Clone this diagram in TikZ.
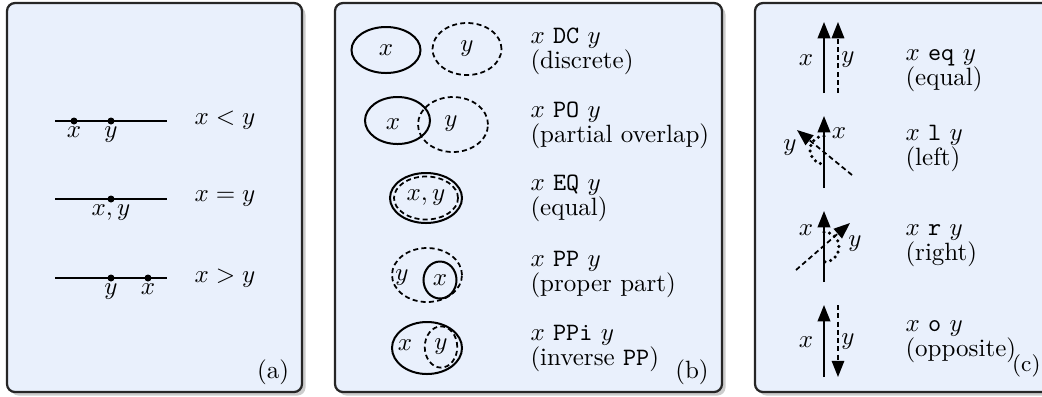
\documentclass[tikz,border=0pt]{standalone}
\usetikzlibrary{shapes.geometric, arrows.meta, shadows}
\definecolor{panelblue}{RGB}{233,240,252}
\begin{document}
\begin{tikzpicture}[x=0.4pt, y=-0.4pt,
  panel/.style={draw=black!85, line width=0.9pt, fill=panelblue, rounded corners=3.2pt,
    drop shadow={shadow xshift=1.4pt, shadow yshift=-1.4pt, opacity=0.4}},
  ln/.style={line width=0.8pt},
  dsh/.style={line width=0.7pt, dash pattern=on 2pt off 1.3pt},
  dotp/.style={line width=1.4pt, line cap=round, dash pattern=on 0pt off 2.3pt},
  oval/.style={ellipse, draw, line width=0.8pt, inner sep=0pt},
  doval/.style={ellipse, draw, dsh, inner sep=0pt},
  dot/.style={circle, fill, inner sep=0pt, minimum size=2.8pt},
  lab/.style={anchor=north, inner sep=1.2pt},
  txt/.style={anchor=mid west, inner sep=0pt, font=\fontsize{10}{12}\selectfont},
  arr/.style={line width=0.8pt, -{Triangle[length=6.5pt,width=5pt]}},
  darr/.style={dsh, -{Triangle[length=6.5pt,width=5pt]}}
]
\useasboundingbox (0,0) rectangle (1042,396);
% panels
\path[panel] (7,3) rectangle (302,392);
\path[panel] (335,3) rectangle (722,392);
\path[panel] (755,3) rectangle (1052,392);

% ---------- panel (a)
\coordinate (l1a) at (55,121); \coordinate (l1b) at (167,121);
\coordinate (l2a) at (55,199); \coordinate (l2b) at (167,199);
\coordinate (l3a) at (55,278); \coordinate (l3b) at (167,278);
\draw[ln] (l1a) -- (l1b);
\draw[ln] (l2a) -- (l2b);
\draw[ln] (l3a) -- (l3b);
\node[dot] (p1x) at (74,121) {};
\node[dot] (p1y) at (111,121) {};
\node[dot] (p2) at (111,199) {};
\node[dot] (p3y) at (111,278) {};
\node[dot] (p3x) at (148,278) {};
\node[lab] (t1x) at (74,123) {$x$};
\node[lab] (t1y) at (111,123) {$y$};
\node[lab] (t2) at (111,201) {$x,y$};
\node[lab] (t3y) at (111,280) {$y$};
\node[lab] (t3x) at (148,280) {$x$};
\node (r1) at (225,120) {$x<y$};
\node (r2) at (225,199) {$x=y$};
\node (r3) at (225,278) {$x>y$};
\node (cap-a) at (273,372) {(a)};

% ---------- panel (b)
\node[oval, minimum width=27.6pt, minimum height=18.4pt] (dcx) at (386,50) {$x$};
\node[doval, minimum width=27.6pt, minimum height=20.8pt] (dcy) at (467,49) {$y$};
\node[oval, minimum width=26pt, minimum height=18.8pt] (pox) at (397.5,120.5) {};
\node[doval, minimum width=28pt, minimum height=22pt] (poy) at (453,124.5) {};
\node (poxl) at (393,124) {$x$};
\node (poyl) at (451,124) {$y$};
\node[oval, minimum width=28.8pt, minimum height=20pt] (eqo) at (426,198) {};
\node[doval, minimum width=25.6pt, minimum height=17.2pt] (eqi) at (426,198) {$x,y$};
\node[doval, minimum width=28pt, minimum height=21.6pt] (ppo) at (427,275) {};
\node[oval, minimum width=13.2pt, minimum height=14.8pt] (ppi) at (440,280) {$x$};
\node (ppyl) at (402,278) {$y$};
\node[oval, minimum width=28pt, minimum height=20.8pt] (pio) at (427,348) {};
\node[doval, minimum width=13pt, minimum height=16.5pt] (pii) at (441,347) {$y$};
\node (pixl) at (405,345) {$x$};

\node[txt] (dc1) at (530,38.5) {$x$ \texttt{DC} $y$};
\node[txt] (dc2) at (530,63.5) {(discrete)};
\node[txt] (po1) at (530,112) {$x$ \texttt{PO} $y$};
\node[txt] (po2) at (530,137) {(partial overlap)};
\node[txt] (eq1) at (530,185.5) {$x$ \texttt{EQ} $y$};
\node[txt] (eq2) at (530,210.5) {(equal)};
\node[txt] (pp1) at (530,261.5) {$x$ \texttt{PP} $y$};
\node[txt] (pp2) at (530,286.5) {(proper part)};
\node[txt] (pi1) at (530,335) {$x$ \texttt{PPi} $y$};
\node[txt] (pi2) at (530,360) {(inverse \texttt{PP})};
\node (cap-b) at (692,372) {(b)};

% ---------- panel (c)
% row 1: equal
\coordinate (a1s) at (824,93); \coordinate (a1t) at (824,22);
\coordinate (b1s) at (838,93); \coordinate (b1t) at (838,22);
\draw[arr] (a1s) -- (a1t);
\draw[darr] (b1s) -- (b1t);
\node (c1x) at (806,60) {$x$};
\node (c1y) at (848,60) {$y$};
% row 2: left
\coordinate (a2s) at (824,188); \coordinate (a2t) at (824,116);
\coordinate (b2s) at (852,175); \coordinate (b2t) at (797,130);
\coordinate (o2) at (824,136);
\draw[arr] (a2s) -- (a2t);
\draw[darr] (b2s) -- (b2t);
\draw[dotp] (o2) arc[start angle=90, end angle=270, radius=5.6pt];
\node (c2x) at (839,133) {$x$};
\node (c2y) at (790,148) {$y$};
% row 3: right
\coordinate (a3s) at (824,282); \coordinate (a3t) at (824,211);
\coordinate (b3s) at (796,270); \coordinate (b3t) at (850,223);
\coordinate (o3) at (824,232);
\draw[arr] (a3s) -- (a3t);
\draw[darr] (b3s) -- (b3t);
\draw[dotp] (o3) arc[start angle=90, end angle=-90, radius=6pt];
\node (c3x) at (806,230) {$x$};
\node (c3y) at (855,244) {$y$};
% row 4: opposite
\coordinate (a4s) at (824,377); \coordinate (a4t) at (824,305);
\coordinate (b4s) at (838,305); \coordinate (b4t) at (838,377);
\draw[arr] (a4s) -- (a4t);
\draw[darr] (b4s) -- (b4t);
\node (c4x) at (806,342) {$x$};
\node (c4y) at (848,342) {$y$};

\node[txt] (e1) at (905,55.5) {$x$ \texttt{eq} $y$};
\node[txt] (e2) at (905,80.5) {(equal)};
\node[txt] (l1) at (905,135.5) {$x$ \texttt{l} $y$};
\node[txt] (l2) at (905,160.5) {(left)};
\node[txt] (q1) at (905,230.5) {$x$ \texttt{r} $y$};
\node[txt] (q2) at (905,255.5) {(right)};
\node[txt] (o1) at (905,326.5) {$x$ \texttt{o} $y$};
\node[txt] (oo2) at (905,351.5) {(opposite)};
\node[anchor=mid east, inner sep=0pt, font=\fontsize{9}{11}\selectfont] (cap-c) at (1041,366) {(c)};
\end{tikzpicture}
\end{document}
